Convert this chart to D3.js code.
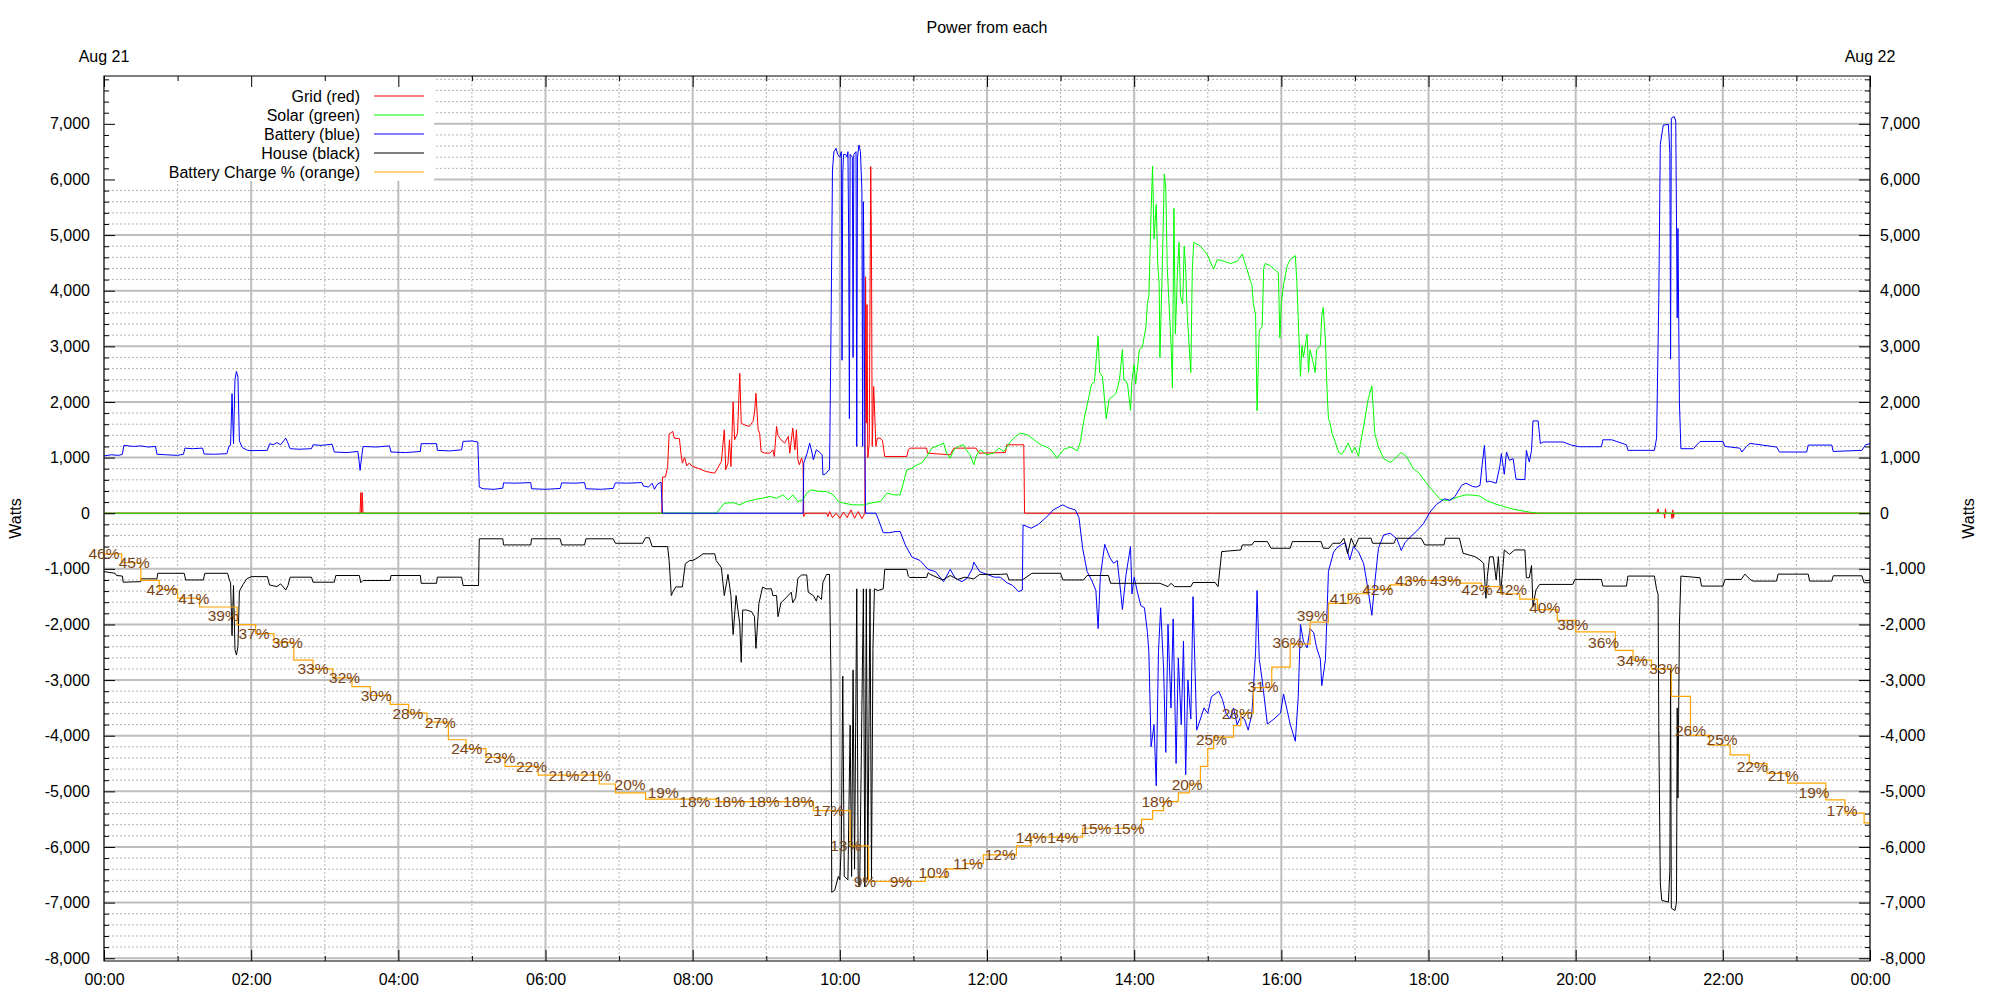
<!DOCTYPE html>
<html>
<head>
<meta charset="utf-8">
<script src="https://cdn.jsdelivr.net/npm/d3@7"></script>
<style>
  html, body { margin: 0; padding: 0; background: #fff; }
  text { font-family: "Liberation Sans", Arial, sans-serif; }
</style>
</head>
<body>
<svg id="chart" width="2000" height="1000"></svg>
<script>
// ---------------- DATA ----------------
const chartTitle = "Power from each";
const dayLabels = ["Aug 21", "Aug 22"];
const hourTicks = [0, 2, 4, 6, 8, 10, 12, 14, 16, 18, 20, 22, 24];
const hourTickLabels = ["00:00","02:00","04:00","06:00","08:00","10:00","12:00","14:00","16:00","18:00","20:00","22:00","00:00"];
const legendLabels = ["Grid (red)", "Solar (green)", "Battery (blue)", "House (black)", "Battery Charge % (orange)"];
const seriesColors = ["#ff0000", "#00ff00", "#0000ff", "#000000", "#ffa500"];

// [hour, watts]
const grid = [[0,0],[3.48,0],[3.49,370],[3.5,0],[3.51,370],[3.52,0],[7.58,0],[7.59,650],[7.63,650],[7.66,840],[7.68,1425],[7.73,1470],[7.75,1350],[7.82,1340],[7.84,1080],[7.86,900],[7.89,1000],[7.92,850],[7.95,900],[8.0,840],[8.07,810],[8.18,750],[8.3,720],[8.34,810],[8.39,930],[8.43,1500],[8.45,780],[8.48,900],[8.5,1320],[8.52,840],[8.55,2000],[8.57,1320],[8.61,1440],[8.64,2515],[8.66,1620],[8.7,1590],[8.77,1560],[8.82,1650],[8.84,1800],[8.86,2155],[8.89,1500],[8.91,1440],[8.93,1110],[8.98,1080],[9.05,1080],[9.09,1140],[9.11,1020],[9.14,1560],[9.16,1400],[9.2,1320],[9.25,1260],[9.3,1380],[9.32,1080],[9.36,1530],[9.39,1140],[9.41,1500],[9.43,960],[9.45,870],[9.48,990],[9.5,900],[9.51,-60],[9.53,0],[9.82,0],[9.84,-60],[9.86,30],[9.9,-80],[9.95,0],[10.0,-90],[10.05,20],[10.1,-80],[10.15,60],[10.2,-90],[10.25,30],[10.3,-100],[10.34,0],[10.35,4250],[10.36,1620],[10.37,3750],[10.38,1000],[10.4,1260],[10.42,6230],[10.43,4730],[10.44,1200],[10.46,2280],[10.49,1200],[10.51,1350],[10.55,1350],[10.58,1300],[10.61,1020],[10.91,1020],[10.93,1140],[10.95,1170],[11.18,1170],[11.19,1080],[11.5,1050],[11.55,1170],[11.85,1170],[11.89,1080],[12.25,1090],[12.27,1230],[12.5,1230],[12.51,0],[21.1,0],[21.12,80],[21.13,0],[21.2,0],[21.21,-90],[21.22,80],[21.23,0],[21.3,0],[21.31,-100],[21.32,60],[21.33,-80],[21.34,0],[24,0]];

const solar = [[0,0],[8.32,0],[8.43,180],[8.55,190],[8.64,150],[8.73,210],[8.86,250],[8.95,270],[9.05,300],[9.14,270],[9.23,330],[9.3,240],[9.36,330],[9.43,210],[9.5,240],[9.55,360],[9.61,420],[9.72,390],[9.82,390],[9.91,330],[9.98,210],[10.05,180],[10.18,150],[10.32,150],[10.45,190],[10.55,210],[10.64,360],[10.73,330],[10.82,330],[10.91,780],[10.98,810],[11.05,870],[11.11,900],[11.18,1020],[11.25,1170],[11.36,1230],[11.41,1260],[11.45,1080],[11.5,990],[11.55,1140],[11.61,1200],[11.68,1230],[11.7,1170],[11.77,1050],[11.82,870],[11.86,1050],[11.91,1140],[12.0,1050],[12.09,1080],[12.16,1170],[12.23,1110],[12.32,1290],[12.39,1380],[12.45,1440],[12.55,1410],[12.64,1320],[12.73,1230],[12.8,1200],[12.87,1140],[12.95,990],[13.05,1155],[13.14,1190],[13.23,1120],[13.27,1290],[13.32,1700],[13.39,2120],[13.42,2320],[13.46,2360],[13.51,3180],[13.53,2530],[13.57,2450],[13.62,1700],[13.66,2050],[13.71,2100],[13.75,2150],[13.8,2390],[13.84,2940],[13.86,2390],[13.88,2390],[13.91,2320],[13.95,1850],[13.97,2390],[14.0,2670],[14.02,2320],[14.05,2670],[14.07,2940],[14.11,2980],[14.16,3350],[14.18,3770],[14.2,3900],[14.23,5420],[14.25,6240],[14.27,4930],[14.3,5550],[14.32,4500],[14.34,4110],[14.35,2800],[14.38,4300],[14.41,6100],[14.43,5830],[14.45,4400],[14.48,3600],[14.5,3080],[14.52,2250],[14.54,5480],[14.56,3220],[14.59,4400],[14.61,4870],[14.63,3900],[14.66,3770],[14.68,4800],[14.7,4400],[14.72,3600],[14.77,2530],[14.79,4400],[14.81,4870],[14.9,4800],[14.99,4660],[15.04,4500],[15.08,4390],[15.13,4560],[15.22,4530],[15.31,4490],[15.4,4530],[15.47,4660],[15.49,4560],[15.53,4400],[15.58,4180],[15.6,4110],[15.62,3770],[15.65,3560],[15.67,1840],[15.7,3290],[15.74,3360],[15.76,4400],[15.78,4490],[15.85,4450],[15.96,4320],[15.98,3150],[16.0,3770],[16.03,4110],[16.08,4450],[16.12,4560],[16.19,4630],[16.21,4180],[16.23,3490],[16.26,2460],[16.28,3010],[16.3,2800],[16.35,3220],[16.37,2530],[16.39,2940],[16.44,2670],[16.46,2530],[16.48,2940],[16.53,3010],[16.55,3560],[16.57,3700],[16.6,3080],[16.62,2250],[16.64,1700],[16.66,1630],[16.69,1430],[16.73,1290],[16.78,1090],[16.82,1060],[16.87,1160],[16.91,1260],[16.96,1090],[17.0,1190],[17.05,1020],[17.07,1220],[17.12,1570],[17.18,2050],[17.23,2290],[17.27,1430],[17.32,1190],[17.39,980],[17.48,915],[17.52,950],[17.57,1020],[17.63,1090],[17.7,1020],[17.79,810],[17.88,710],[17.97,540],[18.06,400],[18.15,260],[18.22,230],[18.29,240],[18.42,300],[18.51,330],[18.6,325],[18.69,310],[18.79,230],[18.92,160],[19.15,72],[19.35,24],[19.48,0],[24,0]];

const battery = [[0,1030],[0.1,1050],[0.2,1040],[0.25,1060],[0.27,1220],[0.4,1200],[0.5,1210],[0.6,1190],[0.7,1200],[0.72,1060],[0.85,1050],[1.0,1040],[1.08,1060],[1.1,1170],[1.2,1160],[1.34,1170],[1.36,1065],[1.5,1060],[1.67,1070],[1.7,1210],[1.72,1220],[1.74,2150],[1.76,1250],[1.78,2400],[1.8,2550],[1.82,2450],[1.84,1300],[1.88,1180],[1.95,1130],[2.0,1125],[2.22,1130],[2.25,1250],[2.3,1230],[2.35,1270],[2.4,1230],[2.47,1350],[2.5,1260],[2.53,1160],[2.65,1150],[2.82,1160],[2.84,1230],[2.95,1220],[3.1,1240],[3.13,1100],[3.3,1090],[3.45,1110],[3.47,900],[3.48,770],[3.5,1000],[3.52,1200],[3.7,1190],[3.88,1210],[3.9,1100],[4.1,1090],[4.3,1110],[4.31,1250],[4.52,1250],[4.53,1130],[4.7,1120],[4.86,1140],[4.88,1290],[5.0,1300],[5.08,1280],[5.1,470],[5.15,440],[5.3,430],[5.42,450],[5.43,545],[5.6,540],[5.8,550],[5.81,440],[6.0,430],[6.2,445],[6.22,545],[6.4,540],[6.53,550],[6.55,440],[6.75,430],[6.92,445],[6.95,545],[7.1,540],[7.31,550],[7.33,490],[7.4,470],[7.45,540],[7.48,430],[7.52,520],[7.57,560],[7.59,0],[9.5,0],[9.51,900],[9.56,1100],[9.59,1260],[9.62,1100],[9.64,960],[9.68,1140],[9.72,1100],[9.76,1050],[9.77,690],[9.8,700],[9.84,760],[9.86,780],[9.88,3300],[9.9,6170],[9.92,6500],[9.95,6560],[9.97,6450],[10.0,6400],[10.02,6500],[10.03,2750],[10.04,6100],[10.05,6450],[10.08,6450],[10.1,6400],[10.11,6500],[10.12,5000],[10.13,1700],[10.14,6450],[10.17,6400],[10.18,2800],[10.19,6450],[10.22,6500],[10.23,1200],[10.24,6400],[10.26,6620],[10.28,6500],[10.3,5800],[10.31,1200],[10.32,5600],[10.33,4000],[10.34,1150],[10.35,0],[10.49,0],[10.52,-100],[10.59,-350],[10.68,-350],[10.75,-330],[10.82,-330],[10.89,-570],[10.98,-790],[11.09,-850],[11.2,-1010],[11.3,-1050],[11.41,-1230],[11.5,-1010],[11.57,-1170],[11.66,-1230],[11.73,-1170],[11.8,-1000],[11.82,-880],[11.9,-1050],[12.0,-1100],[12.1,-1150],[12.18,-1150],[12.27,-1250],[12.35,-1300],[12.43,-1410],[12.48,-1380],[12.49,-210],[12.6,-270],[12.7,-200],[12.84,-30],[12.9,60],[13.0,130],[13.03,150],[13.1,100],[13.2,60],[13.25,-80],[13.3,-630],[13.36,-1045],[13.42,-1200],[13.48,-1390],[13.51,-2075],[13.54,-1140],[13.6,-560],[13.67,-800],[13.72,-900],[13.77,-850],[13.82,-1460],[13.84,-1730],[13.89,-1100],[13.95,-600],[13.97,-1450],[14.0,-1150],[14.05,-1450],[14.09,-1660],[14.14,-1700],[14.18,-2140],[14.2,-2500],[14.23,-4200],[14.27,-3800],[14.3,-4900],[14.33,-2500],[14.36,-1700],[14.4,-2800],[14.43,-4300],[14.46,-2000],[14.5,-3500],[14.53,-1900],[14.57,-4500],[14.6,-2600],[14.64,-3800],[14.67,-2300],[14.7,-4700],[14.73,-3000],[14.77,-3700],[14.8,-1500],[14.85,-3900],[14.9,-3700],[14.95,-3500],[15.0,-3600],[15.05,-3300],[15.1,-3250],[15.15,-3200],[15.2,-3350],[15.25,-3600],[15.3,-3700],[15.35,-3500],[15.4,-3800],[15.45,-3650],[15.5,-3700],[15.55,-3900],[15.6,-3600],[15.65,-2500],[15.67,-1390],[15.7,-2625],[15.74,-3000],[15.81,-3790],[15.9,-3700],[15.99,-3590],[16.03,-3250],[16.12,-3790],[16.19,-4100],[16.23,-3300],[16.26,-2000],[16.3,-2300],[16.35,-2420],[16.39,-2075],[16.44,-2150],[16.48,-2420],[16.53,-2625],[16.55,-3100],[16.6,-2625],[16.64,-1045],[16.71,-700],[16.75,-630],[16.82,-560],[16.87,-530],[16.93,-840],[16.98,-600],[17.05,-700],[17.12,-910],[17.18,-1390],[17.23,-1835],[17.27,-1250],[17.32,-630],[17.39,-390],[17.48,-360],[17.57,-460],[17.63,-670],[17.68,-530],[17.75,-430],[17.84,-320],[17.93,-190],[18.02,20],[18.11,160],[18.22,260],[18.29,230],[18.36,300],[18.45,500],[18.51,540],[18.6,480],[18.65,470],[18.7,500],[18.73,880],[18.76,1220],[18.79,560],[18.83,575],[18.92,540],[18.97,850],[18.99,1070],[19.03,700],[19.06,1100],[19.1,950],[19.15,980],[19.17,800],[19.19,610],[19.31,605],[19.33,1130],[19.37,920],[19.4,1130],[19.42,1660],[19.49,1660],[19.52,1255],[19.56,1280],[19.83,1280],[19.94,1225],[20.05,1195],[20.35,1195],[20.37,1320],[20.49,1320],[20.69,1230],[20.71,1130],[21.07,1130],[21.1,1350],[21.13,3880],[21.15,6630],[21.19,6975],[21.26,6990],[21.28,6480],[21.29,2770],[21.3,7100],[21.34,7130],[21.36,7050],[21.38,3510],[21.39,5120],[21.41,2000],[21.43,1160],[21.6,1160],[21.69,1290],[22.0,1290],[22.03,1200],[22.23,1170],[22.26,1100],[22.32,1200],[22.37,1255],[22.73,1190],[22.77,1100],[23.14,1100],[23.16,1225],[23.48,1225],[23.5,1110],[23.89,1130],[23.94,1230],[24.0,1250]];

const house = [[0,-1050],[0.15,-1080],[0.17,-1120],[0.25,-1130],[0.26,-1240],[0.5,-1230],[0.51,-1180],[0.72,-1180],[0.73,-1080],[1.09,-1080],[1.11,-1200],[1.35,-1200],[1.37,-1080],[1.68,-1080],[1.7,-1180],[1.72,-1250],[1.74,-2200],[1.76,-1300],[1.78,-2450],[1.8,-2550],[1.82,-2400],[1.84,-1400],[1.89,-1280],[1.94,-1180],[2.0,-1140],[2.22,-1140],[2.25,-1290],[2.35,-1320],[2.4,-1270],[2.47,-1380],[2.5,-1300],[2.53,-1150],[2.82,-1150],[2.84,-1240],[3.13,-1240],[3.15,-1120],[3.47,-1120],[3.49,-1250],[3.52,-1210],[3.89,-1210],[3.9,-1120],[4.3,-1120],[4.31,-1260],[4.52,-1260],[4.53,-1150],[4.86,-1150],[4.88,-1300],[5.09,-1300],[5.1,-460],[5.42,-460],[5.43,-570],[5.8,-570],[5.81,-460],[6.2,-460],[6.22,-570],[6.53,-570],[6.55,-460],[6.92,-460],[6.95,-540],[7.32,-540],[7.36,-440],[7.41,-440],[7.45,-600],[7.66,-600],[7.68,-850],[7.71,-1480],[7.73,-1420],[7.77,-1325],[7.86,-1325],[7.9,-910],[7.96,-850],[8.0,-850],[8.07,-800],[8.14,-730],[8.3,-730],[8.32,-850],[8.39,-980],[8.43,-1480],[8.48,-1100],[8.52,-1480],[8.55,-2180],[8.59,-1480],[8.64,-1990],[8.66,-2680],[8.68,-1740],[8.73,-1740],[8.8,-1770],[8.84,-1860],[8.86,-2430],[8.9,-1620],[8.95,-1330],[9.0,-1360],[9.07,-1360],[9.09,-1480],[9.14,-1480],[9.16,-1860],[9.2,-1610],[9.27,-1520],[9.34,-1420],[9.36,-1610],[9.4,-1520],[9.43,-1170],[9.48,-1110],[9.55,-1110],[9.57,-1420],[9.64,-1480],[9.68,-1580],[9.7,-1480],[9.75,-1550],[9.77,-1240],[9.82,-1100],[9.86,-1100],[9.88,-3000],[9.89,-6815],[9.93,-6780],[9.98,-6530],[10.0,-6590],[10.02,-5960],[10.04,-2930],[10.06,-6530],[10.11,-6590],[10.14,-3810],[10.16,-6530],[10.18,-2820],[10.2,-6400],[10.23,-1360],[10.25,-6650],[10.27,-6720],[10.3,-3500],[10.32,-1360],[10.34,-6720],[10.36,-1360],[10.38,-6590],[10.41,-1360],[10.43,-6590],[10.45,-2430],[10.47,-1360],[10.52,-1390],[10.59,-1360],[10.61,-1010],[10.91,-1010],[10.93,-1130],[10.95,-1155],[11.18,-1155],[11.2,-1070],[11.23,-1100],[11.4,-1200],[11.5,-1120],[11.6,-1190],[11.7,-1150],[11.82,-1180],[11.9,-1100],[12.18,-1100],[12.27,-1090],[12.3,-1200],[12.48,-1200],[12.61,-1080],[13.0,-1080],[13.03,-1200],[13.31,-1200],[13.36,-1120],[13.65,-1120],[13.68,-1260],[14.35,-1260],[14.46,-1320],[14.5,-1260],[14.55,-1320],[14.77,-1320],[14.8,-1245],[15.1,-1245],[15.14,-1320],[15.19,-690],[15.45,-660],[15.47,-570],[15.6,-570],[15.63,-510],[15.81,-510],[15.86,-630],[16.12,-630],[16.15,-510],[16.54,-510],[16.57,-630],[16.65,-630],[16.7,-540],[16.8,-540],[16.85,-450],[16.9,-730],[16.95,-450],[17.0,-610],[17.05,-450],[17.22,-450],[17.24,-540],[17.53,-540],[17.56,-450],[17.9,-450],[17.95,-570],[18.21,-570],[18.23,-450],[18.42,-450],[18.47,-720],[18.63,-780],[18.7,-840],[18.75,-900],[18.78,-1530],[18.8,-1140],[18.83,-785],[18.88,-785],[18.92,-1200],[18.95,-780],[18.98,-1440],[19.0,-1150],[19.03,-660],[19.1,-740],[19.17,-660],[19.31,-660],[19.33,-1160],[19.37,-1160],[19.4,-940],[19.42,-1680],[19.46,-1380],[19.51,-1280],[19.96,-1280],[19.99,-1190],[20.35,-1190],[20.37,-1310],[20.69,-1310],[20.71,-1130],[21.07,-1130],[21.1,-1370],[21.12,-1460],[21.13,-3900],[21.15,-6650],[21.17,-6960],[21.26,-6990],[21.28,-6430],[21.29,-2800],[21.3,-7100],[21.35,-7140],[21.37,-7000],[21.38,-3500],[21.39,-5120],[21.41,-2000],[21.43,-1130],[21.69,-1160],[21.71,-1310],[22.0,-1310],[22.03,-1190],[22.25,-1190],[22.3,-1095],[22.37,-1190],[22.41,-1220],[22.73,-1220],[22.75,-1095],[23.16,-1095],[23.18,-1220],[23.48,-1220],[23.5,-1125],[23.89,-1125],[23.92,-1250],[24.0,-1250]];

// [hour, percent] step changes
const chargeSteps = [[0,46],[0.24,45],[0.5,43],[0.75,42],[1.0,41],[1.3,40],[1.81,38],[2.06,37],[2.31,36],[2.58,34],[2.84,33],[3.11,32],[3.37,31],[3.62,30],[3.89,29],[4.14,28],[4.39,27],[4.68,25],[4.92,24],[5.19,23],[5.45,22],[5.9,21],[6.73,20],[6.95,19],[7.36,18.3],[8.32,18],[9.64,17],[10.14,13],[10.39,9],[11.16,9.5],[11.45,10.4],[11.7,11],[11.95,12],[12.4,13],[12.6,14],[13.3,15],[14.1,16],[14.25,17],[14.4,18],[14.6,19],[14.75,20],[14.9,22],[15.0,24],[15.08,25.3],[15.35,26.6],[15.45,28],[15.62,30.9],[15.87,33.2],[16.12,35.8],[16.39,38.3],[16.64,40.4],[16.91,41.5],[17.16,42],[17.48,42.5],[17.7,43],[18.43,42.7],[18.72,42.3],[18.98,41.5],[19.24,40.9],[19.48,39.7],[19.75,38.5],[20.0,37.2],[20.54,35.1],[20.78,34.0],[21.03,33.0],[21.3,29.9],[21.56,25.5],[21.82,24.4],[22.1,23.3],[22.36,22.3],[22.6,21.2],[22.88,20.1],[23.4,18.2],[23.66,16.7],[23.92,15.6],[24,15.6]];

const chargeLabelT = [0,0.41,0.79,1.22,1.62,2.04,2.49,2.84,3.27,3.7,4.13,4.57,4.93,5.38,5.81,6.25,6.68,7.15,7.6,8.03,8.5,8.97,9.44,9.85,10.08,10.34,10.83,11.28,11.74,12.18,12.6,13.03,13.48,13.93,14.31,14.72,15.05,15.4,15.75,16.09,16.42,16.87,17.31,17.76,18.23,18.66,19.13,19.58,19.96,20.38,20.77,21.21,21.56,21.99,22.4,22.82,23.24,23.62];
const chargeLabelPct = [46,45,42,41,39,37,36,33,32,30,28,27,24,23,22,21,21,20,19,18,18,18,18,17,13,9,9,10,11,12,14,14,15,15,18,20,25,28,31,36,39,41,42,43,43,42,42,40,38,36,34,33,26,25,22,21,19,17];

// ---------------- LAYOUT ----------------
const L = 104, R = 1870, T = 76, B = 961;
const svg = d3.select("#chart");
const x = d3.scaleLinear().domain([0, 24]).range([L, R]);
const y = d3.scaleLinear().domain([-8050, 7860]).range([B, T]);
const yPct = d3.scaleLinear().domain([0, 100]).range([B, T]);
const loc = d3.formatLocale({decimal: ".", thousands: ",", grouping: [3], currency: ["", ""], minus: "-"});
const fmt = loc.format(",");

svg.append("rect").attr("width", 2000).attr("height", 1000).attr("fill", "#fff");

const majorY = d3.range(-8000, 7001, 1000);
const minorY = d3.range(-8000, 7801, 200).filter(v => v % 1000 !== 0);
const majorX = d3.range(0, 25, 2);
const minorX = d3.range(1, 24, 2);

// grid
const g = svg.append("g");
g.selectAll(".gminy").data(minorY).join("line")
  .attr("x1", L).attr("x2", R).attr("y1", d => y(d)).attr("y2", d => y(d))
  .attr("stroke", "#b4b4b4").attr("stroke-width", 1).attr("stroke-dasharray", "2,2");
g.selectAll(".gminx").data(minorX).join("line")
  .attr("x1", d => x(d)).attr("x2", d => x(d)).attr("y1", T).attr("y2", B)
  .attr("stroke", "#b4b4b4").attr("stroke-width", 1).attr("stroke-dasharray", "2,2");
g.selectAll(".gmajy").data(majorY).join("line")
  .attr("x1", L).attr("x2", R).attr("y1", d => y(d)).attr("y2", d => y(d))
  .attr("stroke", "#bebebe").attr("stroke-width", 2);
g.selectAll(".gmajx").data(majorX).join("line")
  .attr("x1", d => x(d)).attr("x2", d => x(d)).attr("y1", T).attr("y2", B)
  .attr("stroke", "#bebebe").attr("stroke-width", 2);

// legend box (opaque)
svg.append("rect").attr("x", L).attr("y", T).attr("width", 330).attr("height", 105).attr("fill", "#fff");

// data lines
svg.append("clipPath").attr("id", "clip").append("rect")
  .attr("x", L).attr("y", T).attr("width", R - L).attr("height", B - T);
const plot = svg.append("g").attr("clip-path", "url(#clip)");
const line = d3.line().x(d => x(d[0])).y(d => y(d[1]));
const seriesList = [grid, solar, battery, house];
seriesList.forEach((s, i) => {
  plot.append("path").datum(s).attr("d", line)
    .attr("fill", "none").attr("stroke", seriesColors[i]).attr("stroke-width", 1);
});
const stepLine = d3.line().x(d => x(d[0])).y(d => yPct(d[1])).curve(d3.curveStepAfter);
plot.append("path").datum(chargeSteps).attr("d", stepLine)
  .attr("fill", "none").attr("stroke", seriesColors[4]).attr("stroke-width", 1.2);

// axes
const axes = svg.append("g").attr("font-size", 16);
function styleAxis(sel) {
  sel.select(".domain").remove();
  sel.selectAll("text").attr("font-family", "Liberation Sans, Arial, sans-serif").attr("font-size", 16).attr("fill", "#000");
  sel.selectAll("line").attr("stroke", "#000");
}
axes.append("g").attr("transform", `translate(${L},0)`)
  .call(d3.axisLeft(y).tickValues(majorY).tickSize(-11).tickPadding(14).tickFormat(fmt)).call(styleAxis);
axes.append("g").attr("transform", `translate(${L},0)`)
  .call(d3.axisLeft(y).tickValues(minorY).tickSize(-5).tickFormat("")).call(styleAxis);
axes.append("g").attr("transform", `translate(${R},0)`)
  .call(d3.axisRight(y).tickValues(majorY).tickSize(-11).tickPadding(10).tickFormat(fmt)).call(styleAxis);
axes.append("g").attr("transform", `translate(${R},0)`)
  .call(d3.axisRight(y).tickValues(minorY).tickSize(-5).tickFormat("")).call(styleAxis);
axes.append("g").attr("transform", `translate(0,${B})`)
  .call(d3.axisBottom(x).tickValues(hourTicks).tickSize(-11).tickPadding(13).tickFormat((d, i) => hourTickLabels[i])).call(styleAxis);
axes.append("g").attr("transform", `translate(0,${B})`)
  .call(d3.axisBottom(x).tickValues(minorX).tickSize(-5).tickFormat("")).call(styleAxis);
axes.append("g").attr("transform", `translate(0,${T})`)
  .call(d3.axisTop(x).tickValues(hourTicks).tickSize(-11).tickFormat("")).call(styleAxis);
axes.append("g").attr("transform", `translate(0,${T})`)
  .call(d3.axisTop(x).tickValues(minorX).tickSize(-5).tickFormat("")).call(styleAxis);

// border
svg.append("rect").attr("x", L).attr("y", T).attr("width", R - L).attr("height", B - T)
  .attr("fill", "none").attr("stroke", "#000").attr("stroke-width", 1);

// charge labels (not clipped, drawn over border like the original)
svg.append("g").selectAll(".clab").data(chargeLabelT).join("text")
  .attr("x", d => x(d)).attr("y", (d, i) => yPct(chargeLabelPct[i]))
  .attr("text-anchor", "middle").attr("dominant-baseline", "central")
  .attr("font-size", 15.5).attr("fill", "#7a4414")
  .text((d, i) => chargeLabelPct[i] + "%");

// legend
const leg = svg.append("g");
legendLabels.forEach((lab, i) => {
  const yy = 96 + i * 19;
  leg.append("text").attr("x", 360).attr("y", yy).attr("dy", "0.35em")
    .attr("text-anchor", "end").attr("font-size", 16).attr("fill", "#000").text(lab);
  leg.append("line").attr("x1", 374).attr("x2", 424).attr("y1", yy).attr("y2", yy)
    .attr("stroke", seriesColors[i]).attr("stroke-width", 1.2);
});

// title & labels
svg.append("text").attr("x", (L + R) / 2).attr("y", 33).attr("text-anchor", "middle")
  .attr("font-size", 16).text(chartTitle);
svg.append("text").attr("x", x(0)).attr("y", 62).attr("text-anchor", "middle")
  .attr("font-size", 16).text(dayLabels[0]);
svg.append("text").attr("x", x(24)).attr("y", 62).attr("text-anchor", "middle")
  .attr("font-size", 16).text(dayLabels[1]);
svg.append("text").attr("transform", `translate(21,${(T + B) / 2}) rotate(-90)`)
  .attr("text-anchor", "middle").attr("font-size", 16).text("Watts");
svg.append("text").attr("transform", `translate(1974,${(T + B) / 2}) rotate(-90)`)
  .attr("text-anchor", "middle").attr("font-size", 16).text("Watts");
</script>
</body>
</html>
